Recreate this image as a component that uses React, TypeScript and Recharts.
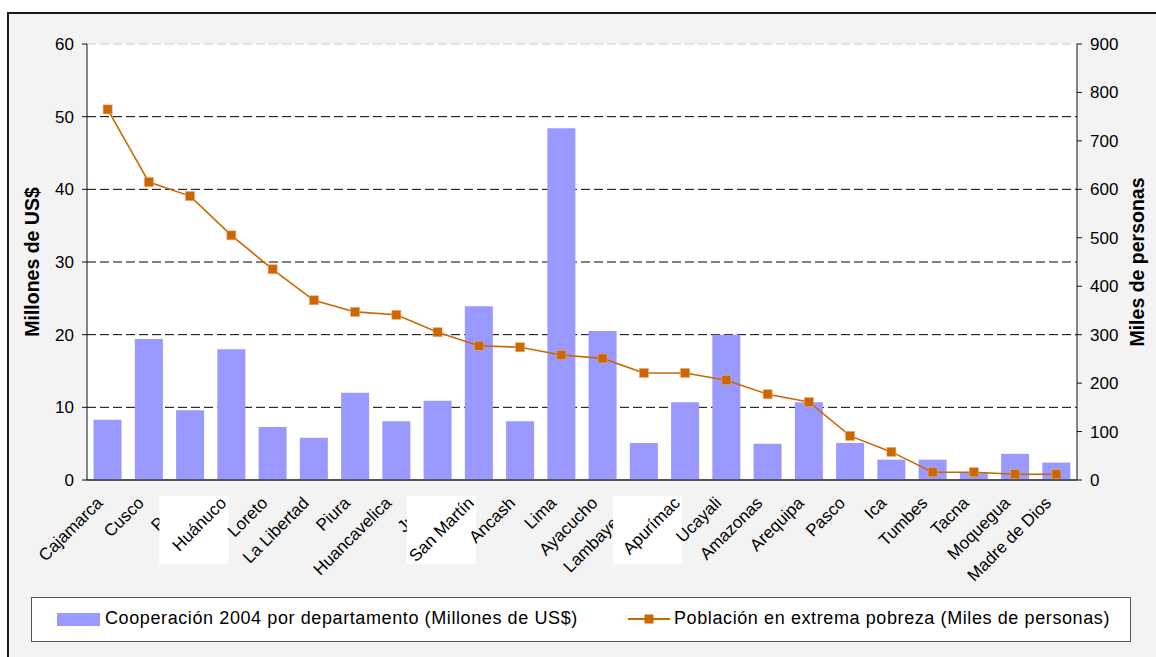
import React from 'react';
import { ComposedChart, Bar, Line, XAxis, YAxis, CartesianGrid, ReferenceLine, Label } from 'recharts';

const categories = ['Cajamarca', 'Cusco', 'Puno', 'Huánuco', 'Loreto', 'La Libertad', 'Piura', 'Huancavelica', 'Junín', 'San Martín', 'Ancash', 'Lima', 'Ayacucho', 'Lambayeque', 'Apurímac', 'Ucayali', 'Amazonas', 'Arequipa', 'Pasco', 'Ica', 'Tumbes', 'Tacna', 'Moquegua', 'Madre de Dios'];
const cooperacion = [8.3, 19.4, 9.6, 18.0, 7.3, 5.8, 12.0, 8.1, 10.9, 23.9, 8.1, 48.4, 20.5, 5.1, 10.7, 20.0, 5.0, 10.7, 5.1, 2.8, 2.8, 1.0, 3.6, 2.4];
const pobreza = [765, 615, 586, 505, 435, 371, 347, 341, 305, 277, 274, 258, 251, 221, 221, 206, 177, 161, 91, 58, 16, 16, 12, 12];
const leftTicks = [0, 10, 20, 30, 40, 50, 60];
const rightTicks = [0, 100, 200, 300, 400, 500, 600, 700, 800, 900];
const boxedLabels = ['Huánuco', 'San Martín', 'Apurímac'];
const barName = 'Cooperación 2004 por departamento (Millones de US$)';
const lineName = 'Población en extrema pobreza (Miles de personas)';
const leftTitle = 'Millones de US$';
const rightTitle = 'Miles de personas';

const data = categories.map((c, i) => ({ name: c, coop: cooperacion[i], pob: pobreza[i] }));
const edgeTicks = categories.map((_, i) => i).concat([categories.length]);

const FONT = '"Liberation Sans", Arial, sans-serif';
const BAR = '#9999ff';
const LINE = '#cc6600';

const XTick = (props: any) => {
  const { x, y, payload } = props;
  const boxed = boxedLabels.includes(payload.value);
  return (
    <g transform={`translate(${x},${y})`}>
      {boxed && <rect x={-72} y={16} width={69} height={68} fill="#ffffff" />}
      <text x={-4} y={24} transform="rotate(-45 -4 24)" textAnchor="end" fontSize={17} fontFamily={FONT} fill="#000">
        {payload.value}
      </text>
    </g>
  );
};

const SquareDot = (props: any) => {
  const { cx, cy } = props;
  if (cx == null || cy == null) return null;
  return <rect x={cx - 4.5} y={cy - 4.5} width={9} height={9} fill={LINE} stroke="#e8a870" strokeWidth={0.6} />;
};

const tickStyle = { fontSize: 17, fontFamily: FONT, fill: '#000' };

export default function App() {
  return (
    <div style={{ position: 'absolute', left: 0, top: 0, width: 1156, height: 657, background: '#fff', overflow: 'hidden' }}>
      <div style={{ position: 'absolute', left: 7, top: 12, width: 1160, height: 660, border: '2px solid #1a1a1a', background: '#f3f3f3', boxSizing: 'border-box' }} />
      <div style={{ position: 'absolute', left: 0, top: 0 }}>
        <ComposedChart width={1156} height={657} data={data} margin={{ top: 44, right: 0, left: 0, bottom: 67 }} barCategoryGap="16%">
          <CartesianGrid vertical={false} horizontalValues={[10, 20, 30, 40, 50]} stroke="#000" strokeDasharray="9 4" fill="#ffffff" yAxisId="left" />
          <ReferenceLine yAxisId="left" y={60} stroke="#cccccc" strokeDasharray="9 4" />
          <XAxis xAxisId="edges" type="number" domain={[0, categories.length]} ticks={edgeTicks} allowDataOverflow height={0} axisLine={false} tickLine={{ stroke: '#333' }} tickSize={5} tickFormatter={() => ''} />
          <XAxis dataKey="name" interval={0} height={110} tickLine={false} tickSize={0} tickMargin={0} axisLine={{ stroke: '#555', strokeWidth: 2 }} tick={<XTick />} />
          <YAxis yAxisId="left" width={87} domain={[0, 60]} ticks={leftTicks} interval={0} axisLine={{ stroke: '#111' }} tickLine={{ stroke: '#111' }} tickSize={5} tickMargin={8} tick={tickStyle}>
            <Label content={(p: any) => {
              const vb = p.viewBox;
              const cx = vb.x + 32;
              const cy = vb.y + vb.height / 2;
              return <text x={cx} y={cy} transform={`rotate(-90 ${cx} ${cy})`} textAnchor="middle" dominantBaseline="central" fontSize={19.5} fontWeight="bold" fontFamily={FONT} fill="#000">{leftTitle}</text>;
            }} />
          </YAxis>
          <YAxis yAxisId="right" orientation="right" width={79} domain={[0, 900]} ticks={rightTicks} interval={0} axisLine={{ stroke: '#111' }} tickLine={{ stroke: '#111' }} tickSize={5} tickMargin={8} tick={tickStyle}>
            <Label content={(p: any) => {
              const vb = p.viewBox;
              const cx = vb.x + 60;
              const cy = vb.y + vb.height / 2;
              return <text x={cx} y={cy} transform={`rotate(-90 ${cx} ${cy})`} textAnchor="middle" dominantBaseline="central" fontSize={19.5} fontWeight="bold" fontFamily={FONT} fill="#000">{rightTitle}</text>;
            }} />
          </YAxis>
          <Bar yAxisId="left" dataKey="coop" name={barName} fill={BAR} isAnimationActive={false} />
          <Line yAxisId="right" dataKey="pob" name={lineName} stroke={LINE} strokeWidth={1.6} dot={<SquareDot />} activeDot={false} isAnimationActive={false} />
        </ComposedChart>
      </div>
      <div style={{ position: 'absolute', left: 31, top: 597, width: 1100, height: 45, border: '1px solid #555', background: '#fff', boxSizing: 'border-box', fontFamily: FONT, fontSize: 18, letterSpacing: 0.6, color: '#000' }}>
        <div style={{ position: 'absolute', left: 25, top: 15, width: 43, height: 13, background: BAR }} />
        <div style={{ position: 'absolute', left: 73, top: 10, whiteSpace: 'nowrap' }}>{barName}</div>
        <svg style={{ position: 'absolute', left: 596, top: 11 }} width={42} height={20}>
          <line x1={0} y1={10} x2={42} y2={10} stroke={LINE} strokeWidth={2} />
          <rect x={16.5} y={5.5} width={9} height={9} fill={LINE} />
        </svg>
        <div style={{ position: 'absolute', left: 642, top: 10, whiteSpace: 'nowrap' }}>{lineName}</div>
      </div>
    </div>
  );
}
